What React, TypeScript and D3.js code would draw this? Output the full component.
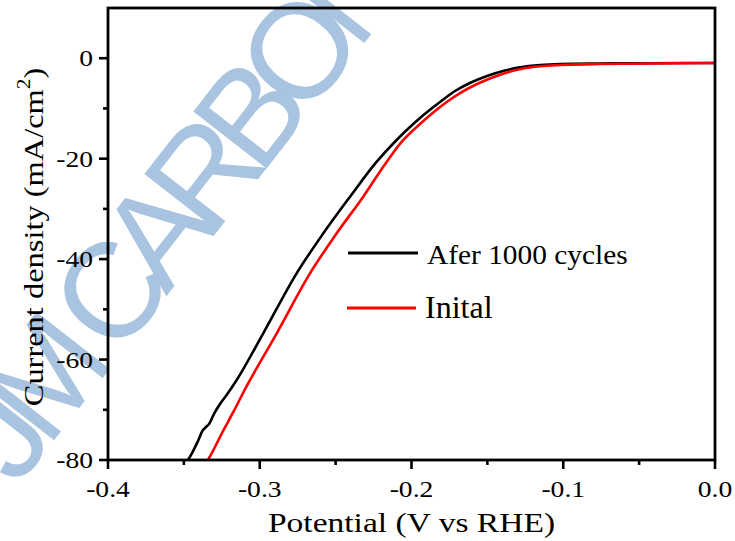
import React from "react";
import * as d3 from "d3";

const potentialAfter = [-0.3473, -0.3446, -0.3407, -0.3374, -0.3354, -0.3334, -0.3302, -0.3262, -0.3209, -0.3152, -0.2977, -0.2757, -0.2581, -0.2405, -0.2229, -0.2098, -0.201, -0.1944, -0.1812, -0.1713, -0.1615, -0.1502, -0.1384, -0.1285, -0.1153, -0.1021, -0.0758, -0.0428, 0.0];
const currentAfter = [-80, -78.61, -76.22, -74.03, -73.43, -72.83, -70.84, -68.85, -66.66, -64.07, -54.77, -42.83, -34.86, -27.57, -20.6, -16.28, -13.7, -11.9, -8.72, -6.53, -4.93, -3.54, -2.45, -1.81, -1.35, -1.15, -1.05, -0.99, -0.95];

const potentialInitial = [-0.3341, -0.3295, -0.3249, -0.3203, -0.3157, -0.311, -0.3064, -0.2888, -0.2669, -0.2493, -0.2318, -0.2163, -0.2054, -0.1944, -0.1845, -0.1759, -0.168, -0.1582, -0.1483, -0.1371, -0.1272, -0.1153, -0.1021, -0.0758, -0.0428, 0.0];
const currentInitial = [-80, -77.41, -74.62, -72.04, -69.45, -66.66, -64.07, -54.77, -42.83, -34.86, -27.57, -20.6, -16.28, -13.1, -10.51, -8.52, -6.93, -5.33, -4.04, -2.84, -2.09, -1.59, -1.35, -1.15, -1.05, -0.95];

const xTicks = [-0.4, -0.3, -0.2, -0.1, 0.0];
const xMinorTicks = [-0.35, -0.25, -0.15, -0.05];
const yTicks = [0, -20, -40, -60, -80];
const yMinorTicks = [-10, -30, -50, -70];

const seriesNames = ["Afer 1000 cycles", "Inital"];
const seriesColors = ["#000000", "#ff0000"];
const watermark = "JM CARBON";

const W = 735;
const H = 541;
const M = { left: 108, right: 715, top: 8, bottom: 460 };

export default function App() {
  const x = d3.scaleLinear().domain([-0.4, 0.0]).range([M.left, M.right]);
  const y = d3.scaleLinear().domain([-80, 10]).range([M.bottom, M.top]);

  const line = d3
    .line<[number, number]>()
    .x((d) => x(d[0]))
    .y((d) => y(d[1]))
    .curve(d3.curveMonotoneX);

  const after: [number, number][] = potentialAfter.map((v, i) => [v, currentAfter[i]]);
  const initial: [number, number][] = potentialInitial.map((v, i) => [v, currentInitial[i]]);

  const serif = "'Liberation Serif', 'Times New Roman', serif";
  const fmtX = (v: number) => (v === 0 ? "0.0" : v.toFixed(1));

  return (
    <svg
      width={W}
      height={H}
      style={{ position: "absolute", left: 0, top: 0, background: "#fff" }}
    >
      {/* watermark */}
      <text
        transform="translate(175,210) rotate(-52)"
        textAnchor="middle"
        dominantBaseline="central"
        fontFamily="'Liberation Sans', Arial, sans-serif"
        fontSize={135}
        letterSpacing={-18}
        fill="#a9c4e0"
      >
        {watermark}
      </text>

      <defs>
        <clipPath id="plotclip">
          <rect x={M.left} y={M.top} width={M.right - M.left} height={M.bottom - M.top} />
        </clipPath>
      </defs>

      <g clipPath="url(#plotclip)">
        <path d={line(after) || ""} fill="none" stroke={seriesColors[0]} strokeWidth={2.6} />
        <path d={line(initial) || ""} fill="none" stroke={seriesColors[1]} strokeWidth={2.6} />
      </g>

      {/* frame */}
      <rect
        x={M.left}
        y={M.top}
        width={M.right - M.left}
        height={M.bottom - M.top}
        fill="none"
        stroke="#000"
        strokeWidth={2.8}
      />

      {/* x ticks */}
      {xTicks.map((t) => (
        <g key={"xt" + t}>
          <line x1={x(t)} x2={x(t)} y1={M.bottom} y2={M.bottom + 9} stroke="#000" strokeWidth={2.6} />
          <text
            transform={`translate(${x(t)},497) scale(1.2,1)`}
            textAnchor="middle"
            fontFamily={serif}
            fontSize={23}
            fill="#000"
          >
            {fmtX(t)}
          </text>
        </g>
      ))}
      {xMinorTicks.map((t) => (
        <line key={"xm" + t} x1={x(t)} x2={x(t)} y1={M.bottom} y2={M.bottom + 5} stroke="#000" strokeWidth={2.6} />
      ))}

      {/* y ticks */}
      {yTicks.map((t) => (
        <g key={"yt" + t}>
          <line x1={M.left - 9} x2={M.left} y1={y(t)} y2={y(t)} stroke="#000" strokeWidth={2.6} />
          <text
            transform={`translate(93,${y(t) + 8}) scale(1.2,1)`}
            textAnchor="end"
            fontFamily={serif}
            fontSize={23}
            fill="#000"
          >
            {t}
          </text>
        </g>
      ))}
      {yMinorTicks.map((t) => (
        <line key={"ym" + t} x1={M.left - 5} x2={M.left} y1={y(t)} y2={y(t)} stroke="#000" strokeWidth={2.6} />
      ))}

      {/* axis titles */}
      <text
        transform={`translate(${(M.left + M.right) / 2},532) scale(1.22,1)`}
        textAnchor="middle"
        fontFamily={serif}
        fontSize={27.5}
        fill="#000"
      >
        Potential (V vs RHE)
      </text>
      <text
        transform={`translate(43,237) rotate(-90) scale(1.18,1)`}
        textAnchor="middle"
        fontFamily={serif}
        fontSize={27.5}
        fill="#000"
      >
        Current density (mA/cm
        <tspan fontSize={18} dy={-13}>2</tspan>
        <tspan dy={13}>)</tspan>
      </text>

      {/* legend */}
      <line x1={348} x2={418} y1={253} y2={253} stroke={seriesColors[0]} strokeWidth={3} />
      <text
        transform="translate(427,264) scale(1.05,1)"
        fontFamily={serif}
        fontSize={28}
        fill="#000"
      >
        {seriesNames[0]}
      </text>
      <line x1={347} x2={416} y1={308} y2={308} stroke={seriesColors[1]} strokeWidth={3} />
      <text x={425} y={318} fontFamily={serif} fontSize={32} fill="#000">
        {seriesNames[1]}
      </text>
    </svg>
  );
}
